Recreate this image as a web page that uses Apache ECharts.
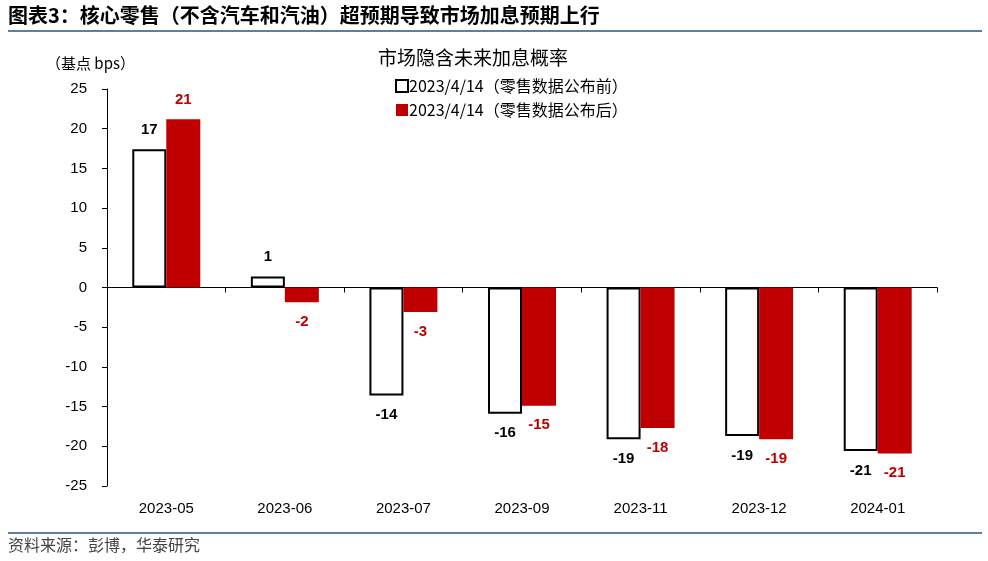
<!DOCTYPE html>
<html>
<head>
<meta charset="utf-8">
<script src="https://cdn.jsdelivr.net/npm/echarts@6/dist/echarts.min.js"></script>
<style>html,body{margin:0;padding:0;background:#fff;}#c{width:988px;height:561px;}</style>
</head>
<body>
<div id="c"></div>
<script>
const categories = ['2023-05','2023-06','2023-07','2023-09','2023-11','2023-12','2024-01'];
const beforeValues = [17.4, 1.4, -13.6, -15.9, -19.1, -18.7, -20.6];
const afterValues = [21.2, -1.85, -3.1, -14.9, -17.7, -19.1, -20.9];
const yTicks = {min: -25, max: 25, interval: 5};
const seriesNames = ['2023/4/14（零售数据公布前）', '2023/4/14（零售数据公布后）'];

const RED = '#C00000';
const CJK = '"Noto Sans CJK SC", "Liberation Sans", sans-serif';
const LAT = '"Liberation Sans", Arial, sans-serif';

function mk(vals) {
  return vals.map(v => ({
    value: v,
    label: {position: v >= 0 ? 'top' : 'bottom'}
  }));
}

const chart = echarts.init(document.getElementById('c'));
chart.setOption({
  animation: false,
  backgroundColor: '#fff',
  grid: {left: 107, right: 51, top: 89, bottom: 75},
  legend: {
    orient: 'vertical', left: 390, top: 73,
    itemWidth: 12, itemHeight: 12, itemGap: 8,
    icon: 'rect',
    textStyle: {fontFamily: CJK, fontSize: 16, color: '#000', padding: [0,0,0,-4]},
    data: seriesNames
  },
  xAxis: [{
    type: 'category', data: categories,
    axisLine: {onZero: true, lineStyle: {color: '#000', width: 1}},
    axisTick: {show: true, length: 5, lineStyle: {color: '#000'}},
    axisLabel: {show: false}
  }, {
    type: 'category', data: categories, position: 'bottom',
    axisLine: {show: false, onZero: false}, axisTick: {show: false},
    axisLabel: {fontFamily: LAT, fontSize: 15, color: '#000', margin: 15}
  }],
  yAxis: {
    type: 'value', min: yTicks.min, max: yTicks.max, interval: yTicks.interval,
    axisLine: {show: true, lineStyle: {color: '#000'}},
    axisTick: {show: true, length: 5, lineStyle: {color: '#000'}},
    splitLine: {show: false},
    axisLabel: {fontFamily: LAT, fontSize: 15, color: '#000', margin: 20}
  },
  series: [{
    name: seriesNames[0], type: 'bar', barWidth: 34, barGap: '0%',
    data: mk(beforeValues),
    itemStyle: {color: '#fff', borderColor: '#000', borderWidth: 2},
    label: {show: true, distance: 12, fontFamily: LAT, fontSize: 15, fontWeight: 'bold', color: '#000',
      formatter: p => Math.round(p.value)}
  }, {
    name: seriesNames[1], type: 'bar', barWidth: 34, barGap: '0%',
    data: mk(afterValues),
    itemStyle: {color: RED},
    label: {show: true, distance: 12, fontFamily: LAT, fontSize: 15, fontWeight: 'bold', color: RED,
      formatter: p => Math.round(p.value)}
  }],
  graphic: [
    {type: 'text', left: 8, top: 5, style: {text: '图表3：核心零售（不含汽车和汽油）超预期导致市场加息预期上行', font: 'bold 20px ' + CJK, fill: '#000'}},
    {type: 'rect', shape: {x: 8, y: 30, width: 974, height: 2}, style: {fill: '#5f7f9f'}},
    {type: 'text', left: 378, top: 48, style: {text: '市场隐含未来加息概率', font: '19px ' + CJK, fill: '#000'}},
    {type: 'text', left: 46, top: 56, style: {text: '（基点 bps）', font: '15px ' + CJK, fill: '#000'}},
    {type: 'rect', shape: {x: 8, y: 532, width: 974, height: 2}, style: {fill: '#5f7f9f'}},
    {type: 'text', left: 8, top: 537, style: {text: '资料来源：彭博，华泰研究', font: '16px ' + CJK, fill: '#444'}}
  ]
});
</script>
</body>
</html>
